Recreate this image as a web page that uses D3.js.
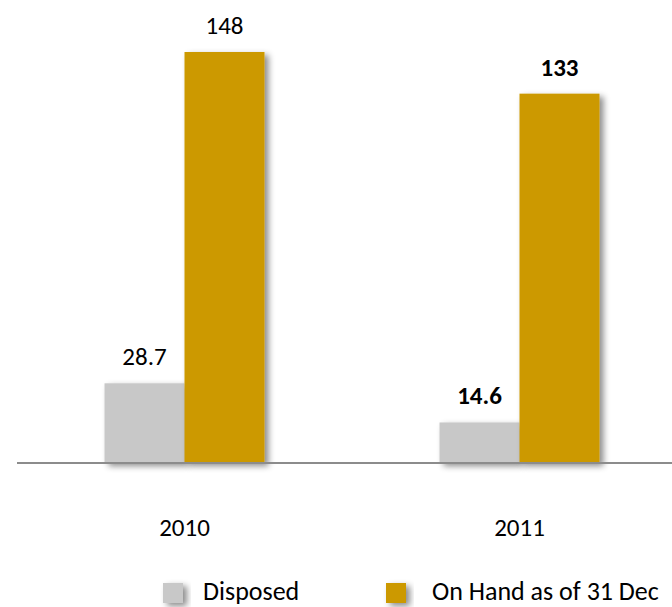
<!DOCTYPE html>
<html lang="en">
<head>
  <meta charset="UTF-8">
  <title>Disposed vs On Hand</title>
  <script src="https://d3js.org/d3.v7.min.js"></script>
  <style>
    body { margin: 0; background: #fff; }
    text { font-family: Carlito, Lato, sans-serif; fill: #000; font-size: 25px; }
    .legend text { font-size: 26px; }
    .axis-line { stroke: #8c8c8c; stroke-width: 2px; }
  </style>
</head>
<body>
  <div id="chart"></div>

  <script>
    // data
    const years = ["2010", "2011"];
    const seriesNames = ["Disposed", "On Hand as of 31 Dec"];
    const disposed = [28.7, 14.6];
    const onHand = [148, 133];
    const labelBold = [[false, true], [false, true]]; // [series][year]
    const colors = ["#c8c8c8", "#cc9900"];

    const width = 672, height = 607;
    const baseY = 463;

    const svg = d3.select("#chart").append("svg")
      .attr("width", width)
      .attr("height", height);

    // bar shadow
    const defs = svg.append("defs");
    const f = defs.append("filter").attr("id", "shadow")
      .attr("x", "-20%").attr("y", "-20%").attr("width", "160%").attr("height", "150%");
    f.append("feDropShadow")
      .attr("dx", 4).attr("dy", 3)
      .attr("stdDeviation", 3)
      .attr("flood-color", "#000")
      .attr("flood-opacity", 0.45);

    const x0 = d3.scaleBand()
      .domain(years)
      .range([17, 687])
      .paddingInner(0.5224)
      .paddingOuter(0.2612);

    const x1 = d3.scaleBand()
      .domain(seriesNames)
      .range([0, x0.bandwidth()]);

    const y = d3.scaleLinear()
      .domain([0, 148])
      .range([baseY, 52]);

    const values = [disposed, onHand];

    // bars
    const groups = svg.selectAll(".year")
      .data(years)
      .enter().append("g")
      .attr("class", "year")
      .attr("transform", d => `translate(${x0(d)},0)`);

    groups.each(function(yr, i) {
      const g = d3.select(this);
      seriesNames.forEach((s, si) => {
        const v = values[si][i];
        g.append("rect")
          .attr("x", x1(s))
          .attr("y", y(v))
          .attr("width", x1.bandwidth())
          .attr("height", baseY - y(v))
          .attr("fill", colors[si])
          .attr("filter", "url(#shadow)");
      });
    });

    // axis line
    svg.append("line")
      .attr("class", "axis-line")
      .attr("x1", 17).attr("x2", width)
      .attr("y1", baseY).attr("y2", baseY);

    // value labels
    groups.each(function(yr, i) {
      const g = d3.select(this);
      seriesNames.forEach((s, si) => {
        const v = values[si][i];
        g.append("text")
          .attr("x", x1(s) + x1.bandwidth() / 2)
          .attr("y", y(v) - 18)
          .attr("text-anchor", "middle")
          .style("font-weight", labelBold[si][i] ? "bold" : "normal")
          .text(v);
      });
    });

    // category labels
    groups.append("text")
      .attr("x", x0.bandwidth() / 2)
      .attr("y", 536)
      .attr("text-anchor", "middle")
      .text(d => d);

    // legend
    const legendX = [163, 386];
    const legend = svg.selectAll(".legend")
      .data(seriesNames)
      .enter().append("g")
      .attr("class", "legend")
      .attr("transform", (d, i) => `translate(${legendX[i]},583)`);

    legend.append("rect")
      .attr("width", 20).attr("height", 20)
      .attr("fill", (d, i) => colors[i])
      .attr("filter", "url(#shadow)");

    legend.append("text")
      .attr("x", (d, i) => i === 0 ? 40 : 46)
      .attr("y", 17)
      .text(d => d);
  </script>
</body>
</html>
